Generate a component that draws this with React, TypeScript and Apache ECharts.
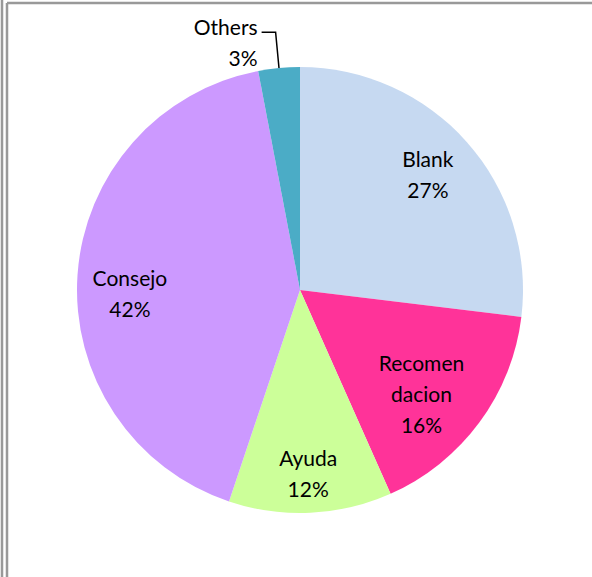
import React, { useEffect, useRef } from "react";
import * as echarts from "echarts";

const categories = ["Blank", "Recomendacion", "Ayuda", "Consejo", "Others"];
const displayNames = ["Blank", "Recomen\ndacion", "Ayuda", "Consejo", "Others"];
const values = [26.9, 16.4, 11.8, 41.8, 3.0];
const colors = ["#C6D9F1", "#FF3399", "#CCFF99", "#CC99FF", "#4BACC6"];

export default function App() {
  const ref = useRef<HTMLDivElement>(null);
  useEffect(() => {
    if (!ref.current) return;
    const chart = echarts.init(ref.current, undefined, { renderer: "svg" });
    const center = [300, 290];
    const R = 223;
    const fontFamily = "Lato, 'Noto Sans', sans-serif";
    const labelOffsets: Record<string, number[]> = {
      Blank: [-2, -1],
      Recomendacion: [-18, 0],
      Ayuda: [0, 10],
      Consejo: [3, 15],
    };
    chart.setOption({
      animation: false,
      backgroundColor: "#ffffff",
      graphic: [
        { type: "line", shape: { x1: 2, y1: 0, x2: 2, y2: 577 }, style: { stroke: "#999999", lineWidth: 2.5 }, silent: true },
        { type: "line", shape: { x1: 7, y1: 3, x2: 7, y2: 577 }, style: { stroke: "#999999", lineWidth: 2.5 }, silent: true },
        { type: "line", shape: { x1: 7, y1: 3, x2: 592, y2: 3 }, style: { stroke: "#999999", lineWidth: 2.5 }, silent: true },
      ],
      series: [
        {
          type: "pie",
          center,
          radius: [0, R],
          startAngle: 90,
          clockwise: true,
          silent: true,
          label: { show: false },
          labelLine: { show: false },
          itemStyle: { borderWidth: 0 },
          data: categories.map((c, i) => ({ name: c, value: values[i], itemStyle: { color: colors[i] } })),
        },
        {
          type: "pie",
          center,
          radius: [118, R],
          startAngle: 90,
          clockwise: true,
          silent: true,
          itemStyle: { color: "rgba(0,0,0,0)", borderWidth: 0 },
          label: {
            show: true,
            position: "inside",
            color: "#000000",
            fontFamily,
            fontSize: 21,
            lineHeight: 31,
            align: "center",
            formatter: (p: any) => `${displayNames[p.dataIndex]}\n${Math.round(p.percent)}%`,
          },
          labelLine: { show: false },
          data: categories.map((c, i) => {
            const item: any = { name: c, value: values[i] };
            if (c === "Others") {
              item.label = {
                position: "outside",
                distanceToLabelLine: 4,
                formatter: (p: any) => `{sp|}\n${displayNames[p.dataIndex]}\n${Math.round(p.percent)}%`,
                rich: { sp: { lineHeight: 20, fontSize: 1 } },
              };
              item.labelLine = {
                show: true,
                length: 36,
                length2: 14,
                lineStyle: { color: "#000000", width: 1.5 },
              };
            } else if (labelOffsets[c]) {
              item.label = { offset: labelOffsets[c] };
            }
            return item;
          }),
        },
      ],
    });
    return () => chart.dispose();
  }, []);
  return (
    <div
      ref={ref}
      style={{ position: "fixed", left: 0, top: 0, width: 592, height: 577 }}
    />
  );
}
